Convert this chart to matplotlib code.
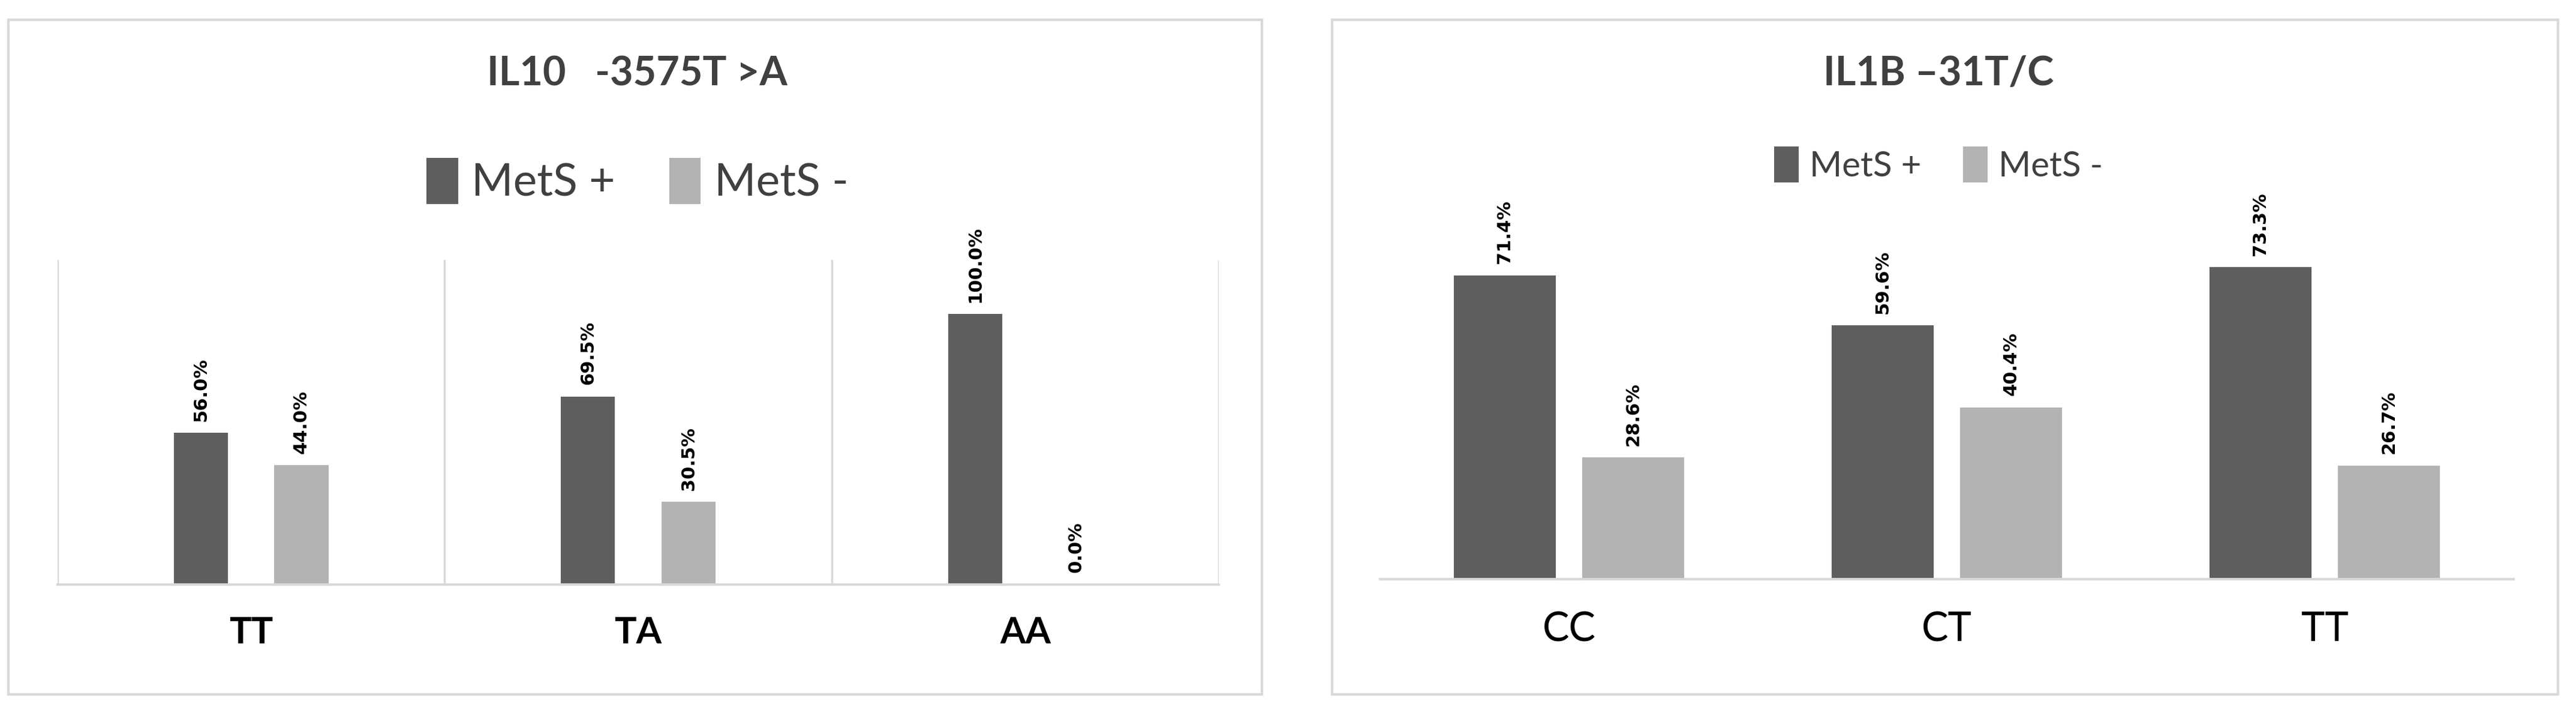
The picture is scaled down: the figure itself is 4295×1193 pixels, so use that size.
import matplotlib
matplotlib.use("Agg")
import matplotlib.pyplot as plt
from matplotlib.patches import Rectangle
import numpy as np

plt.rcParams["font.family"] = ["Lato", "DejaVu Sans"]

# data
il10_cats = ["TT", "TA", "AA"]
il10_pos = [56.0, 69.5, 100.0]
il10_neg = [44.0, 30.5, 0.0]

il1b_cats = ["CC", "CT", "TT"]
il1b_pos = [71.4, 59.6, 73.3]
il1b_neg = [28.6, 40.4, 26.7]

DARK = "#5e5e5e"
LIGHT = "#b3b3b3"
GRID = "#d9d9d9"

fig = plt.figure(figsize=(42.95, 11.93), dpi=100)

# panel frames
for x0, w in [(5 / 1568, 763 / 1568), (811 / 1568, 746 / 1568)]:
    fig.patches.append(Rectangle((x0, 1 - 422 / 435), w, 410 / 435, transform=fig.transFigure,
                                 fill=False, edgecolor=GRID, linewidth=3))


def draw(ax, cats, pos, neg, width, off, label_bold, lab_size):
    x = np.arange(len(cats))
    b1 = ax.bar(x - off, pos, width, color=DARK, label="MetS +")
    b2 = ax.bar(x + off, neg, width, color=LIGHT, label="MetS -")
    for bars, vals in [(b1, pos), (b2, neg)]:
        for b, v in zip(bars, vals):
            ax.annotate(f"{v:.1f}%", (b.get_x() + b.get_width() / 2, v),
                        xytext=(0, 14), textcoords="offset points", rotation=90,
                        ha="center", va="bottom", fontsize=22, fontweight="bold",
                        family="DejaVu Sans")
    ax.set_xlim(-0.5, len(cats) - 0.5)
    ax.set_xticks(x)
    ax.set_xticklabels(cats, fontsize=lab_size,
                       fontweight="bold" if label_bold else "normal")
    ax.tick_params(axis="x", length=0, pad=38)
    ax.set_yticks([])
    for s in ["top", "right", "left"]:
        ax.spines[s].set_visible(False)
    ax.spines["bottom"].set_color(GRID)
    ax.spines["bottom"].set_linewidth(3)


ax1 = fig.add_axes([35 / 1568, 1 - 355 / 435, 707 / 1568, 197 / 435])
draw(ax1, il10_cats, il10_pos, il10_neg, 0.14, 0.13, True, 44)
ax1.set_ylim(0, 120)
for xv in [-0.5, 0.5, 1.5, 2.5]:
    ax1.axvline(xv, color=GRID, linewidth=2.5)
fig.text(388 / 1568, 1 - 45 / 435, "IL10   -3575T >A", ha="center", va="center",
         fontsize=48, fontweight="bold", color="#404040")
fig.legend(*ax1.get_legend_handles_labels(), loc="center", bbox_to_anchor=(388 / 1568, 1 - 110 / 435),
           ncol=2, frameon=False, fontsize=54, handlelength=0.7, handleheight=1.2,
           columnspacing=1.2, handletextpad=0.3, labelcolor="#404040")

ax2 = fig.add_axes([840 / 1568, 1 - 352 / 435, 690 / 1568, 207 / 435])
draw(ax2, il1b_cats, il1b_pos, il1b_neg, 0.27, 0.17, False, 48)
ax2.set_ylim(0, 80)
fig.text(1180 / 1568, 1 - 45 / 435, "IL1B \u201331T/C", ha="center", va="center",
         fontsize=48, fontweight="bold", color="#404040")
fig.legend(*ax2.get_legend_handles_labels(), loc="center", bbox_to_anchor=(1180 / 1568, 1 - 100 / 435),
           ncol=2, frameon=False, fontsize=42, handlelength=0.7, handleheight=1.2,
           columnspacing=1.2, handletextpad=0.3, labelcolor="#404040")

fig.savefig("out.png", dpi=100, facecolor="white")
